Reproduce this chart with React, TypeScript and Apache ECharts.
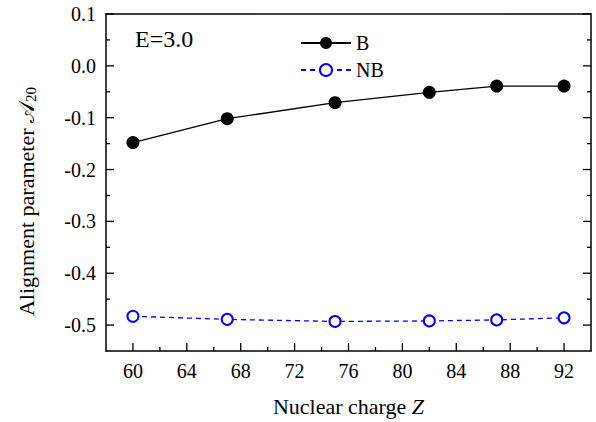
import React, { useEffect, useRef } from "react";
import * as echarts from "echarts";

const zValues = [60, 67, 75, 82, 87, 92];
const bValues = [-0.148, -0.102, -0.071, -0.051, -0.039, -0.039];
const nbValues = [-0.483, -0.489, -0.493, -0.492, -0.49, -0.486];
const xTickLabels = [60, 64, 68, 72, 76, 80, 84, 88, 92];
const xMinorTicks = [62, 66, 70, 74, 78, 82, 86, 90];
const yTickLabels = [0.1, 0, -0.1, -0.2, -0.3, -0.4, -0.5];
const yMinorTicks = [0.05, -0.05, -0.15, -0.25, -0.35, -0.45];
const seriesNames = ["B", "NB"];
const energyLabel = "E=3.0";

const FONT = "'Liberation Serif', 'Times New Roman', serif";

export default function App() {
  const ref = useRef<HTMLDivElement>(null);
  useEffect(() => {
    document.body.style.margin = "0";
    const chart = echarts.init(ref.current!, null, { renderer: "svg" });
    const xRange = { min: 58, max: 94 };
    const yRange = { min: -0.55, max: 0.1 };
    const fmtY = (v: number) => {
      const r = Math.round(v * 10) / 10;
      return (r === 0 ? 0 : r).toFixed(1);
    };
    const data = (vals: number[]) => zValues.map((z, i) => [z, vals[i]]);
    const frameLine = { show: true, onZero: false, lineStyle: { color: "#000", width: 1.5 } };
    const tickStyle = { stroke: "#000", lineWidth: 1.3 };
    // ticks drawn through the axes' scales (api.coord), pointing into the plot
    const xTickSeries = (vals: number[], len: number) => ({
      type: "custom",
      silent: true,
      clip: false,
      z: 5,
      data: vals.map((v) => [v, yRange.min]),
      renderItem: (_p: any, api: any) => {
        const p = api.coord([api.value(0), api.value(1)]);
        return {
          type: "line",
          shape: { x1: p[0], y1: p[1], x2: p[0], y2: p[1] - len },
          style: tickStyle,
        };
      },
    });
    const yTickSeries = (vals: number[], len: number) => ({
      type: "custom",
      silent: true,
      clip: false,
      z: 5,
      data: vals.map((v) => [xRange.min, v]),
      renderItem: (_p: any, api: any) => {
        const l = api.coord([xRange.min, api.value(1)]);
        const r = api.coord([xRange.max, api.value(1)]);
        return {
          type: "group",
          children: [
            { type: "line", shape: { x1: l[0], y1: l[1], x2: l[0] + len, y2: l[1] }, style: tickStyle },
            { type: "line", shape: { x1: r[0], y1: r[1], x2: r[0] - len, y2: r[1] }, style: tickStyle },
          ],
        };
      },
    });
    const option: any = {
      animation: false,
      backgroundColor: "#fff",
      textStyle: { fontFamily: FONT },
      grid: { left: 106, top: 14, right: 5, bottom: 71 },
      xAxis: [
        {
          type: "value",
          ...xRange,
          position: "bottom",
          axisLine: frameLine,
          axisTick: { show: false },
          axisLabel: { customValues: xTickLabels, color: "#000", fontSize: 20, fontFamily: FONT, margin: 10 },
          splitLine: { show: false },
          name: "Nuclear charge {i|Z}",
          nameLocation: "middle",
          nameGap: 44,
          nameTextStyle: {
            color: "#000",
            fontSize: 22,
            fontFamily: FONT,
            rich: { i: { fontStyle: "italic", fontSize: 22, fontFamily: FONT, color: "#000" } },
          },
        },
        {
          type: "value",
          ...xRange,
          position: "top",
          axisLine: frameLine,
          axisTick: { show: false },
          axisLabel: { show: false },
          splitLine: { show: false },
        },
      ],
      yAxis: [
        {
          type: "value",
          ...yRange,
          position: "left",
          axisLine: frameLine,
          axisTick: { show: false },
          axisLabel: { customValues: yTickLabels, formatter: fmtY, color: "#000", fontSize: 20, fontFamily: FONT, margin: 10 },
          splitLine: { show: false },
          name: "Alignment parameter {i|𝒜}{sub|20}",
          nameLocation: "middle",
          nameGap: 68,
          nameTextStyle: {
            color: "#000",
            fontSize: 22,
            fontFamily: FONT,
            padding: [0, 38, 0, 0],
            rich: {
              i: { fontSize: 22, fontFamily: FONT, color: "#000" },
              sub: { fontSize: 15, fontFamily: FONT, color: "#000", verticalAlign: "bottom", padding: [8, 0, 0, 0] },
            },
          },
        },
        {
          type: "value",
          ...yRange,
          position: "right",
          axisLine: frameLine,
          axisTick: { show: false },
          axisLabel: { show: false },
          splitLine: { show: false },
        },
      ],
      legend: {
        data: seriesNames,
        orient: "vertical",
        left: 300,
        top: 33,
        padding: 0,
        itemWidth: 50,
        itemHeight: 15,
        itemGap: 7,
        textStyle: { color: "#000", fontSize: 20, fontFamily: FONT },
      },
      graphic: [
        { type: "text", left: 135, top: 27, style: { text: energyLabel, fontSize: 24, fontFamily: FONT, fill: "#000" } },
      ],
      series: [
        {
          name: seriesNames[0],
          type: "line",
          data: data(bValues),
          symbol: "circle",
          symbolSize: 13,
          itemStyle: { color: "#000" },
          lineStyle: { color: "#000", width: 1.3 },
        },
        {
          name: seriesNames[1],
          type: "line",
          data: data(nbValues),
          symbol: "emptyCircle",
          symbolSize: 11,
          itemStyle: { color: "#0000ff", borderWidth: 1.3 },
          lineStyle: { color: "#0000ff", width: 1.3, type: [5, 4] },
        },
        xTickSeries(xTickLabels, 8),
        xTickSeries(xMinorTicks, 4),
        yTickSeries(yTickLabels, 8),
        yTickSeries(yMinorTicks, 4),
      ],
    };
    chart.setOption(option);
    return () => chart.dispose();
  }, []);
  return <div ref={ref} style={{ position: "fixed", left: 0, top: 0, width: 596, height: 422 }} />;
}
